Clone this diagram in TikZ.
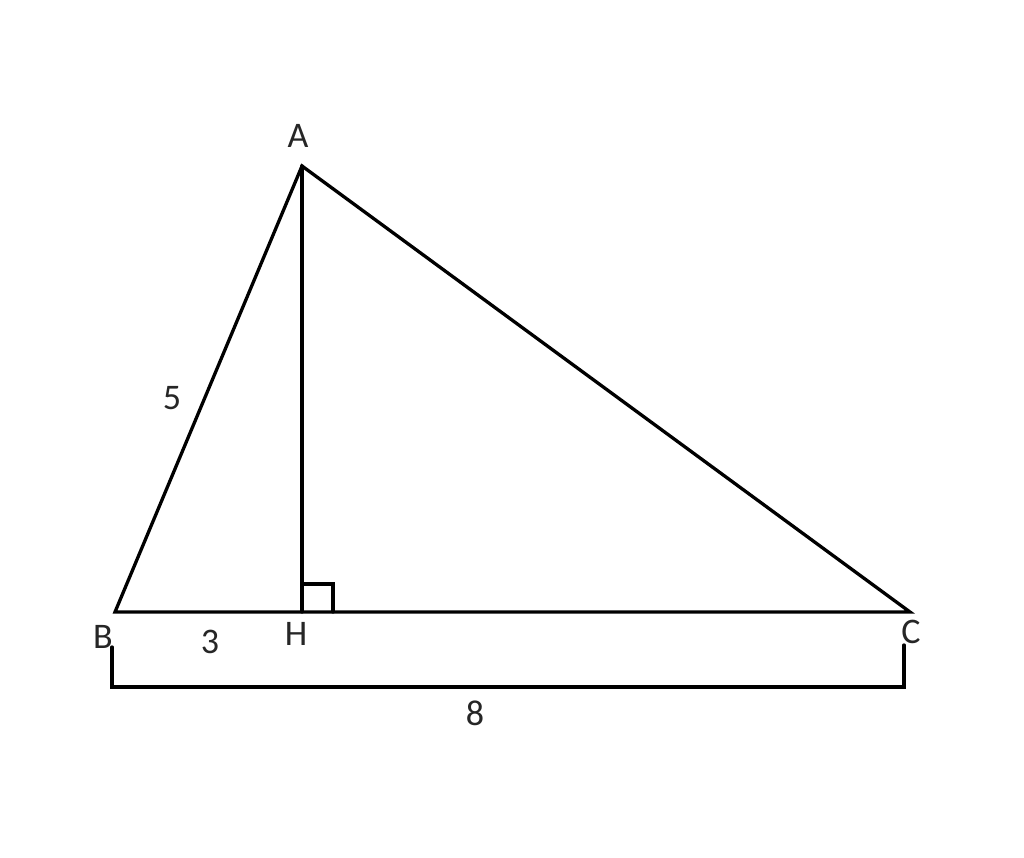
\documentclass[tikz,border=0pt]{standalone}
\usepackage{fontspec}
\setmainfont{Carlito}
\begin{document}
\begin{tikzpicture}[x=1pt,y=-1pt,
  seg/.style={line width=3.3pt,line cap=round,line join=miter},
  lbl/.style={font=\fontsize{36}{36}\selectfont,text=black!85,inner sep=0pt}]
\useasboundingbox[fill=white] (0,0) rectangle (1024,857);
\coordinate (A) at (302,166);
\coordinate (B) at (115,612);
\coordinate (H) at (302,612);
\coordinate (C) at (910,612);
\coordinate (Sq1) at (302,584);
\coordinate (Sq2) at (333,584);
\coordinate (Sq3) at (333,612);
\coordinate (L1) at (112,647);
\coordinate (L2) at (112,687);
\coordinate (R2) at (904,687);
\coordinate (R1) at (904,645);
\draw[seg] (B) -- (A) -- (C) -- cycle;
\draw[seg] (A) -- (H);
\draw[seg] (Sq1) -- (Sq2) -- (Sq3);
\draw[seg] (L1) -- (L2) -- (R2) -- (R1);
\node[lbl] (la) at (298,136) {A};
\node[lbl] (lb) at (103,637) {B};
\node[lbl] (lh) at (296,634) {H};
\node[lbl] (lc) at (911,632) {C};
\node[lbl] (l3) at (210,642) {3};
\node[lbl] (l5) at (172,398) {5};
\node[lbl] (l8) at (475,713) {8};
\end{tikzpicture}
\end{document}
